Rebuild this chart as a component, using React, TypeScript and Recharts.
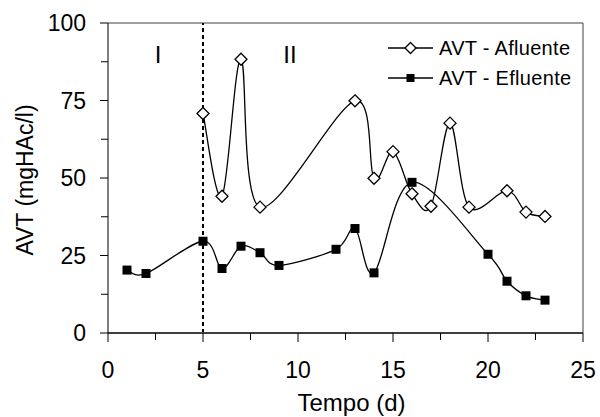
import { LineChart, Line, XAxis, YAxis, ReferenceLine, ReferenceDot, Legend } from 'recharts';

// dias e valores (AVT em mgHAc/l)
const afluenteDias = [5, 6, 7, 8, 13, 14, 15, 16, 17, 18, 19, 21, 22, 23];
const afluenteAVT = [70.8, 44.1, 88.3, 40.6, 74.9, 49.9, 58.5, 44.9, 40.9, 67.7, 40.6, 45.9, 39, 37.6];

const efluenteDias = [1, 2, 5, 6, 7, 8, 9, 12, 13, 14, 16, 20, 21, 22, 23];
const efluenteAVT = [20.3, 19.2, 29.6, 20.8, 28, 25.9, 21.8, 27, 33.7, 19.4, 48.6, 25.4, 16.7, 12, 10.6];

const xTicks = [0, 2.5, 5, 7.5, 10, 12.5, 15, 17.5, 20, 22.5, 25];
const yTicks = [0, 12.5, 25, 37.5, 50, 62.5, 75, 87.5, 100];

const fases = [
  { nome: 'I', dia: 2.63 },
  { nome: 'II', dia: 9.58 },
];
const inicioFase2 = 5;

const afluente = afluenteDias.map((dia, i) => ({ dia, avt: afluenteAVT[i] }));
const efluente = efluenteDias.map((dia, i) => ({ dia, avt: efluenteAVT[i] }));

const FONT = '"Liberation Sans", Arial, sans-serif';

// suavização tipo Excel (Catmull-Rom)
function smooth(context: any) {
  let pts: number[][] = [];
  return {
    areaStart() {},
    areaEnd() {},
    lineStart() {
      pts = [];
    },
    point(x: number, y: number) {
      pts.push([+x, +y]);
    },
    lineEnd() {
      if (!pts.length) return;
      context.moveTo(pts[0][0], pts[0][1]);
      for (let i = 0; i < pts.length - 1; i++) {
        const p0 = pts[i - 1] || pts[i];
        const p1 = pts[i];
        const p2 = pts[i + 1];
        const p3 = pts[i + 2] || p2;
        context.bezierCurveTo(
          p1[0] + (p2[0] - p0[0]) / 6,
          p1[1] + (p2[1] - p0[1]) / 6,
          p2[0] - (p3[0] - p1[0]) / 6,
          p2[1] - (p3[1] - p1[1]) / 6,
          p2[0],
          p2[1]
        );
      }
    },
  };
}

const Diamond = ({ cx, cy }: any) => {
  if (cx == null || cy == null) return null;
  const s = 6;
  return (
    <polygon
      points={`${cx},${cy - s} ${cx + s},${cy} ${cx},${cy + s} ${cx - s},${cy}`}
      fill="#fff"
      stroke="#000"
      strokeWidth={1.3}
    />
  );
};

const Square = ({ cx, cy }: any) => {
  if (cx == null || cy == null) return null;
  return <rect x={cx - 4.5} y={cy - 4.5} width={9} height={9} fill="#000" />;
};

const XTick = ({ x, y, payload }: any) => {
  const major = payload.value % 5 === 0;
  return (
    <g>
      <line x1={x} x2={x} y1={y} y2={y + (major ? 9 : 7)} stroke="#000" />
      {major && (
        <text x={x} y={y + 45} textAnchor="middle" fontSize={23} fontFamily={FONT} fill="#000">
          {payload.value}
        </text>
      )}
    </g>
  );
};

const YTick = ({ x, y, payload }: any) => {
  const major = payload.value % 25 === 0;
  return (
    <g>
      <line x1={x - (major ? 8 : 7)} x2={x} y1={y} y2={y} stroke="#000" />
      {major && (
        <text x={x - 22} y={y} dy="0.36em" textAnchor="end" fontSize={23} fontFamily={FONT} fill="#000">
          {payload.value}
        </text>
      )}
    </g>
  );
};

const series = [
  { name: 'AVT - Afluente', marker: 'diamond' },
  { name: 'AVT - Efluente', marker: 'square' },
];

const LegendBox = () => (
  <div style={{ fontFamily: FONT, fontSize: 20, color: '#000' }}>
    {series.map((s) => (
      <div key={s.name} style={{ display: 'flex', alignItems: 'center', height: 30 }}>
        <svg width={51} height={14} style={{ display: 'block' }}>
          <line x1={0} x2={45} y1={7} y2={7} stroke="#000" strokeWidth={1.3} />
          {s.marker === 'diamond' ? (
            <polygon points="22.5,1.5 28,7 22.5,12.5 17,7" fill="#fff" stroke="#000" strokeWidth={1.3} />
          ) : (
            <rect x={18.5} y={3} width={8} height={8} fill="#000" />
          )}
        </svg>
        <span style={{ whiteSpace: 'nowrap', letterSpacing: 0.3 }}>{s.name}</span>
      </div>
    ))}
  </div>
);

export default function App() {
  return (
    <div style={{ position: 'absolute', left: 0, top: 0, background: '#fff' }}>
      <LineChart width={600} height={417} margin={{ top: 23, right: 17, bottom: 0, left: 0 }}>
        <XAxis
          type="number"
          dataKey="dia"
          domain={[0, 25]}
          ticks={xTicks}
          interval={0}
          tickSize={0}
          tickMargin={0}
          tick={<XTick />}
          height={84}
          axisLine={{ stroke: '#404040', strokeWidth: 2 }}
          allowDuplicatedCategory={false}
          label={{
            value: 'Tempo (d)',
            position: 'insideBottom',
            offset: 6,
            dx: 6,
            style: { fontSize: 24, fontFamily: FONT, fill: '#000' },
          }}
        />
        <YAxis
          type="number"
          domain={[0, 100]}
          ticks={yTicks}
          interval={0}
          tickSize={0}
          tickMargin={0}
          tick={<YTick />}
          width={108}
          axisLine={{ stroke: '#000', strokeWidth: 1 }}
          label={{
            value: 'AVT (mgHAc/l)',
            angle: -90,
            position: 'insideLeft',
            offset: 25,
            dy: 2,
            style: { fontSize: 23, fontFamily: FONT, fill: '#000', textAnchor: 'middle' },
          }}
        />
        <ReferenceLine y={100} stroke="#404040" strokeWidth={1} />
        <ReferenceLine x={25} stroke="#404040" strokeWidth={1} />
        <ReferenceLine x={inicioFase2} stroke="#000" strokeWidth={2} strokeDasharray="4 3" />
        {fases.map((f) => (
          <ReferenceDot
            key={f.nome}
            x={f.dia}
            y={90}
            r={0}
            fill="none"
            stroke="none"
            label={{ value: f.nome, position: 'center', style: { fontSize: 24, fontFamily: FONT, fill: '#000' } }}
          />
        ))}
        <Legend
          layout="horizontal"
          verticalAlign="middle"
          align="center"
          content={<LegendBox />}
          wrapperStyle={{ left: 388, top: 33, width: 210, height: 60 }}
        />
        <Line
          data={afluente}
          dataKey="avt"
          name="AVT - Afluente"
          type={smooth as any}
          stroke="#000"
          strokeWidth={1.3}
          dot={<Diamond />}
          activeDot={false}
          isAnimationActive={false}
        />
        <Line
          data={efluente}
          dataKey="avt"
          name="AVT - Efluente"
          type={smooth as any}
          stroke="#000"
          strokeWidth={1.3}
          dot={<Square />}
          activeDot={false}
          isAnimationActive={false}
        />
      </LineChart>
    </div>
  );
}
